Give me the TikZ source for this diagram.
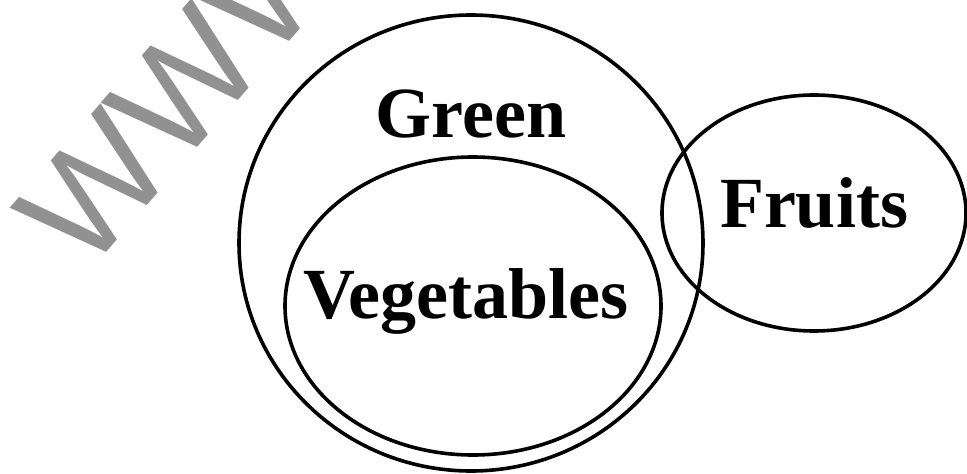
\documentclass[tikz,border=0pt]{standalone}
\usepackage{fontspec}
\setmainfont{Liberation Serif}
\newfontfamily\wmfont{Liberation Sans}
\usetikzlibrary{shapes.geometric, positioning}
\definecolor{wmgray}{RGB}{145,145,145}

\begin{document}
\begin{tikzpicture}[x=1pt, y=1pt,
  setline/.style={draw, ellipse, line width=3.6pt, inner sep=0pt},
  setlabel/.style={anchor=base, inner sep=0pt,
    font=\fontsize{72}{80}\selectfont\bfseries}]
  \useasboundingbox (0,0) rectangle (967,-474);
  \clip (0,0) rectangle (967,-474);
  % watermark
  \node[anchor=base west, inner sep=0pt, rotate=49, text=wmgray,
        font=\wmfont\fontsize{148}{150}\selectfont] (mark) at (86,-276) {WWW};
  % sets
  \node[setline, minimum width=464, minimum height=456] (green) at (471,-243) {};
  \node[setline, minimum width=376, minimum height=298] (veg) at (473,-306) {};
  \node[setline, minimum width=304, minimum height=236] (fruit) at (814,-213) {};
  % labels
  \node[setlabel] (greentext) at (471,-137) {Green};
  \node[setlabel] (vegtext) at (466,-318) {Vegetables};
  \node[setlabel] (fruittext) at (814,-227) {Fruits};
\end{tikzpicture}
\end{document}
